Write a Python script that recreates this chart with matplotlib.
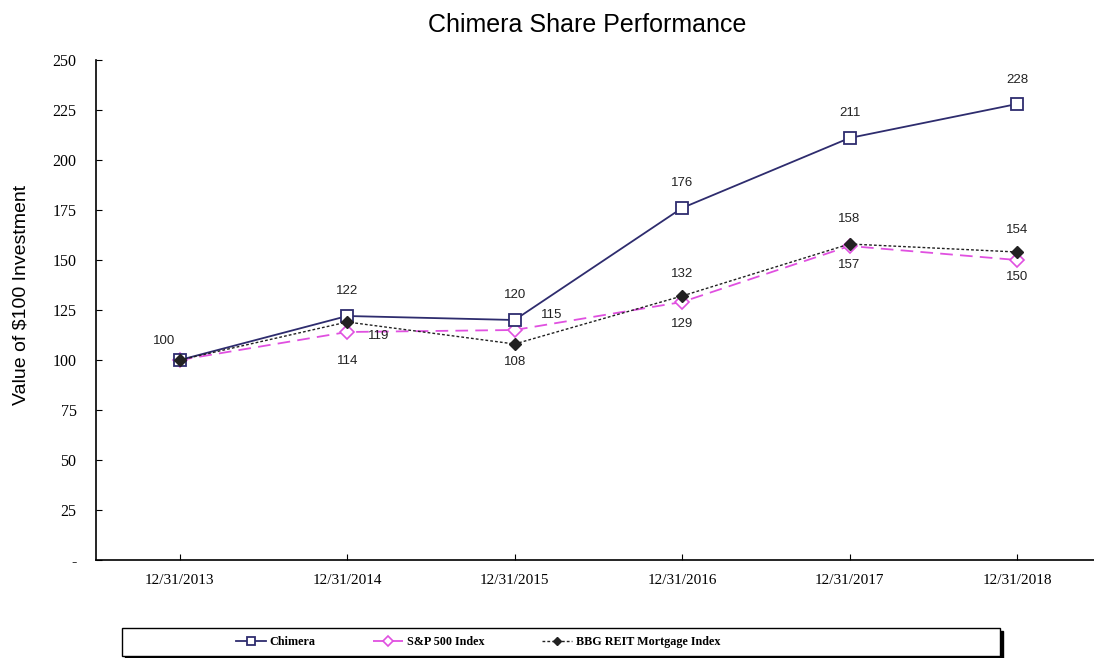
import matplotlib
matplotlib.use("Agg")
import matplotlib.pyplot as plt
from matplotlib.patches import Rectangle

# ---------------------------------------------------------------------------
# Data
# ---------------------------------------------------------------------------
dates = ["12/31/2013", "12/31/2014", "12/31/2015", "12/31/2016", "12/31/2017", "12/31/2018"]
chimera = [100, 122, 120, 176, 211, 228]
sp500 = [100, 114, 115, 129, 157, 150]
bbg_reit = [100, 119, 108, 132, 158, 154]
yticks = [0, 25, 50, 75, 100, 125, 150, 175, 200, 225, 250]
ytick_labels = ["-", "25", "50", "75", "100", "125", "150", "175", "200", "225", "250"]

# label offsets (points) for each point, None = no label
chimera_off = [None, (0, 18), (0, 18), (0, 18), (0, 18), (0, 17)]
sp_off = [None, (0, -21), (27, 11), (0, -16), (0, -14), (0, -12)]
bbg_off = [(-11, 14), (23, -10), (0, -13), (0, 16), (0, 18), (0, 16)]

NAVY = "#2e2c6e"
MAGENTA = "#e050e0"
DARK = "#222222"

fig = plt.figure(figsize=(10.94, 6.58), dpi=100)
ax = fig.add_axes([96 / 1094, 1 - 560 / 658, 1 - 96 / 1094, 500 / 658])

x = list(range(len(dates)))
ax.plot(x, chimera, color=NAVY, lw=1.3, marker="s", ms=8, mfc="white",
        mec=NAVY, mew=1.3, label="Chimera", zorder=3)
ax.plot(x, sp500, color=MAGENTA, lw=1.3, ls=(0, (7, 4)), marker="D", ms=7,
        mfc="white", mec=MAGENTA, mew=1.2, label="S&P 500 Index", zorder=2)
ax.plot(x, bbg_reit, color=DARK, lw=1.0, ls=(0, (2, 1.5)), marker="D", ms=6,
        mfc=DARK, mec=DARK, label="BBG REIT Mortgage Index", zorder=4)

lbl = dict(textcoords="offset points", ha="center", va="center",
           fontsize=9.5, family="Liberation Sans", color="#222222")
for i in range(len(dates)):
    if chimera_off[i] is not None:
        ax.annotate(str(chimera[i]), (x[i], chimera[i]), xytext=chimera_off[i], **lbl)
    if sp_off[i] is not None:
        ax.annotate(str(sp500[i]), (x[i], sp500[i]), xytext=sp_off[i], **lbl)
    if bbg_off[i] is not None:
        ax.annotate(str(bbg_reit[i]), (x[i], bbg_reit[i]), xytext=bbg_off[i], **lbl)

ax.set_xlim(-0.5, 5.46)
ax.set_ylim(0, 250)
ax.set_xticks(x)
ax.set_xticklabels(dates, family="Liberation Serif", fontsize=11)
ax.set_yticks(yticks)
ax.set_yticklabels(ytick_labels, family="Liberation Serif", fontsize=11.5)
ax.tick_params(axis="y", direction="in", length=4, pad=14)
ax.tick_params(axis="x", direction="in", length=4, pad=10)
for s in ["top", "right"]:
    ax.spines[s].set_visible(False)
for s in ["left", "bottom"]:
    ax.spines[s].set_linewidth(1.2)

ax.set_ylabel("Value of $100 Investment", family="Liberation Sans", fontsize=14)
ax.yaxis.set_label_coords(-0.067, 0.53)
fig.text(587 / 1094, 1 - 25 / 658, "Chimera Share Performance", ha="center", va="center",
         family="Liberation Sans", fontsize=18)

# legend box with shadow edge
bx, by, bw, bh = 122 / 1094, 1 - 656 / 658, 878 / 1094, 28 / 658
fig.patches.append(Rectangle((bx + 3 / 1094, by - 3 / 658), bw, bh, transform=fig.transFigure,
                             facecolor="black", edgecolor="black", zorder=1))
fig.patches.append(Rectangle((bx, by), bw, bh, transform=fig.transFigure,
                             facecolor="white", edgecolor="black", lw=1.0, zorder=2))
handles, labels = ax.get_legend_handles_labels()
fig.legend(handles, labels, loc="center", bbox_to_anchor=(478 / 1094, by + bh / 2),
           ncol=3, frameon=False, handlelength=2.5, columnspacing=4.75,
           handletextpad=0.3, markerscale=0.7,
           prop={"family": "Liberation Serif", "weight": "bold", "size": 8.7})

fig.savefig("out.png", dpi=100)
